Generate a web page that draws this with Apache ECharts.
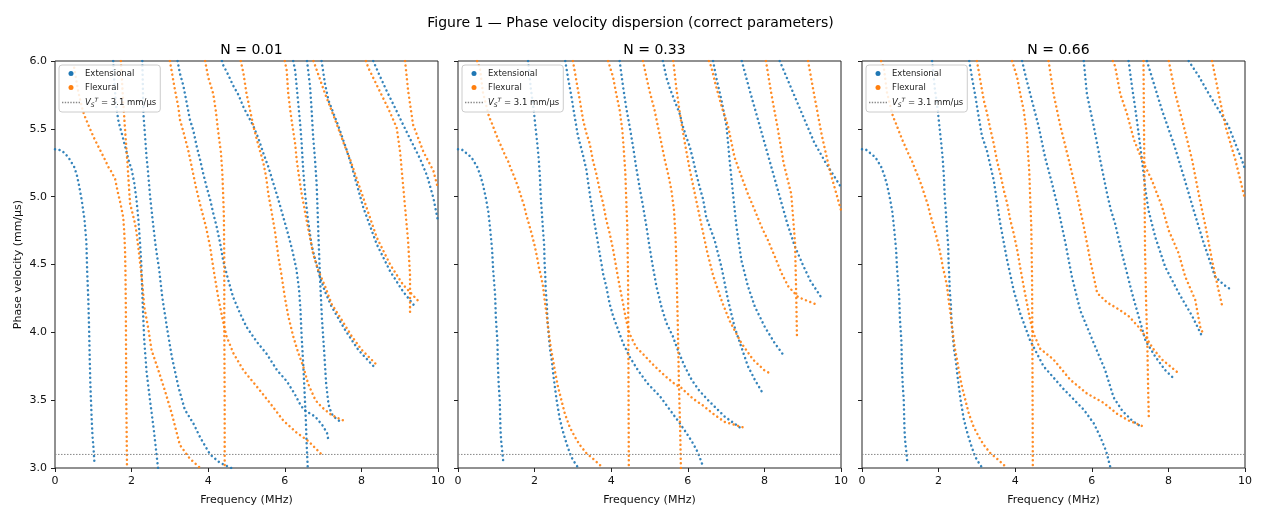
<!DOCTYPE html>
<html>
<head>
<meta charset="utf-8">
<script src="https://cdn.jsdelivr.net/npm/echarts/dist/echarts.min.js"></script>
<style>
html, body { margin: 0; padding: 0; background: #fff; }
#main { width: 1261px; height: 509px; }
</style>
</head>
<body>
<div id="main"></div>
<script>
// panel values
var N_VALUES = [0.01, 0.33, 0.66];
var VS = 3.1;

// N = 0.01  (frequency MHz, phase velocity mm/us)
var EXT_A = [
    [[0,5.35],[0.18,5.34],[0.35,5.29],[0.5,5.22],[0.57,5.16],[0.63,5.08],[0.7,4.97],[0.77,4.83],[0.82,4.66],[0.84,4.45],[0.87,4.24],[0.89,4.03],[0.905,3.83],[0.92,3.65],[0.94,3.49],[0.96,3.35],[0.98,3.23],[1.01,3.13],[1.03,3.04]],
    [[1.52,6.0],[1.55,5.85],[1.59,5.68],[1.66,5.55],[1.74,5.47],[1.85,5.35],[1.92,5.27],[2.0,5.2],[2.07,5.1],[2.13,4.97],[2.18,4.82],[2.22,4.66],[2.25,4.52],[2.29,4.21],[2.33,3.94],[2.39,3.71],[2.48,3.5],[2.58,3.28],[2.69,3.0]],
    [[2.28,6.0],[2.31,5.6],[2.35,5.45],[2.39,5.29],[2.42,5.21],[2.48,5.01],[2.54,4.85],[2.63,4.63],[2.72,4.46],[2.8,4.26],[2.92,4.04],[3.05,3.82],[3.22,3.6],[3.39,3.43],[3.61,3.33],[3.8,3.22],[4.05,3.1],[4.3,3.04],[4.6,3.0]],
    [[3.2,6.0],[3.26,5.91],[3.35,5.82],[3.44,5.69],[3.52,5.57],[3.61,5.49],[3.7,5.37],[3.79,5.27],[3.87,5.17],[3.96,5.07],[4.05,4.98],[4.13,4.88],[4.22,4.78],[4.31,4.66],[4.39,4.53],[4.52,4.39],[4.65,4.26],[4.83,4.14],[5.0,4.04],[5.27,3.93],[5.53,3.84],[5.8,3.72],[6.05,3.64],[6.25,3.55],[6.4,3.47],[6.5,3.43],[6.61,3.41],[6.79,3.38],[6.97,3.32],[7.1,3.26],[7.15,3.19]],
    [[4.36,6.0],[4.39,5.97],[4.52,5.9],[4.65,5.82],[4.79,5.75],[4.92,5.66],[5.05,5.59],[5.18,5.52],[5.31,5.43],[5.44,5.32],[5.57,5.22],[5.7,5.1],[5.83,4.98],[5.96,4.85],[6.09,4.72],[6.2,4.6],[6.3,4.47],[6.37,4.32],[6.41,4.16],[6.44,3.97],[6.48,3.77],[6.51,3.6],[6.55,3.35],[6.57,3.18],[6.6,3.0]],
    [[6.22,6.0],[6.27,5.93],[6.31,5.81],[6.35,5.69],[6.4,5.54],[6.44,5.39],[6.48,5.2],[6.53,5.02],[6.6,4.84],[6.7,4.64],[6.88,4.44],[7.05,4.3],[7.22,4.19],[7.57,4.02],[7.92,3.87],[8.35,3.74]],
    [[6.58,6.0],[6.61,5.93],[6.66,5.81],[6.7,5.64],[6.74,5.44],[6.79,5.27],[6.83,5.1],[6.85,4.95],[6.88,4.7],[6.92,4.4],[6.97,4.1],[7.03,3.85],[7.08,3.62],[7.14,3.47],[7.22,3.4],[7.35,3.36],[7.47,3.34]],
    [[6.96,6.0],[7.05,5.83],[7.14,5.71],[7.4,5.52],[7.62,5.34],[7.75,5.22],[8.05,4.92],[8.4,4.65],[8.75,4.45],[9.09,4.3],[9.4,4.19]],
    [[8.31,6.0],[8.48,5.89],[8.66,5.78],[8.87,5.66],[9.09,5.53],[9.3,5.41],[9.53,5.28],[9.72,5.15],[9.88,4.99],[10,4.82]]
];
var FLEX_A = [
    [[0.5,5.95],[0.61,5.77],[0.72,5.64],[0.78,5.59],[0.87,5.53],[0.96,5.47],[1.04,5.42],[1.13,5.37],[1.22,5.32],[1.31,5.27],[1.39,5.22],[1.48,5.18],[1.57,5.13],[1.65,5.02],[1.71,4.95],[1.78,4.85],[1.81,4.73],[1.83,4.59],[1.84,4.44],[1.85,4.16],[1.86,3.55],[1.88,3.0]],
    [[1.72,6.0],[1.78,5.7],[1.84,5.45],[1.9,5.21],[1.96,4.95],[2.03,4.87],[2.09,4.8],[2.13,4.73],[2.19,4.59],[2.25,4.44],[2.28,4.36],[2.33,4.19],[2.44,4.02],[2.52,3.87],[2.7,3.72],[2.87,3.57],[3.05,3.4],[3.26,3.17],[3.52,3.07],[3.79,3.0]],
    [[3.0,6.0],[3.03,5.95],[3.13,5.79],[3.22,5.66],[3.26,5.57],[3.35,5.48],[3.48,5.34],[3.57,5.22],[3.68,5.07],[3.8,4.93],[3.94,4.78],[4.05,4.63],[4.13,4.48],[4.26,4.26],[4.31,4.19],[4.38,4.09],[4.48,3.97],[4.65,3.85],[4.92,3.72],[5.27,3.6],[5.61,3.48],[5.96,3.35],[6.31,3.26],[6.61,3.2],[6.96,3.1]],
    [[3.92,6.0],[4.0,5.88],[4.13,5.76],[4.2,5.63],[4.26,5.48],[4.33,5.33],[4.37,5.17],[4.39,5.02],[4.41,4.85],[4.42,4.53],[4.42,4.04],[4.43,3.5],[4.43,3.0]],
    [[4.85,6.0],[4.92,5.91],[5.0,5.76],[5.09,5.64],[5.18,5.52],[5.27,5.42],[5.35,5.34],[5.44,5.25],[5.51,5.15],[5.57,5.02],[5.66,4.88],[5.74,4.75],[5.83,4.56],[5.92,4.41],[6.0,4.26],[6.09,4.12],[6.22,3.97],[6.35,3.85],[6.48,3.75],[6.61,3.62],[6.8,3.5],[6.96,3.45],[7.22,3.39],[7.53,3.35]],
    [[6.0,6.0],[6.05,5.93],[6.09,5.76],[6.14,5.64],[6.2,5.52],[6.27,5.39],[6.31,5.27],[6.37,5.15],[6.44,5.02],[6.52,4.9],[6.6,4.78],[6.74,4.58],[6.87,4.46],[7.05,4.34],[7.22,4.21],[7.49,4.09],[7.75,3.97],[8.01,3.87],[8.4,3.76]],
    [[6.75,6.0],[6.9,5.88],[7.05,5.76],[7.31,5.57],[7.57,5.37],[7.7,5.28],[8.05,4.99],[8.4,4.7],[8.75,4.5],[9.09,4.35],[9.49,4.23]],
    [[8.12,6.0],[8.18,5.95],[8.44,5.8],[8.7,5.65],[8.92,5.51],[9.01,5.33],[9.07,5.14],[9.14,4.92],[9.22,4.67],[9.27,4.42],[9.27,4.13]],
    [[9.14,6.0],[9.22,5.78],[9.35,5.53],[9.62,5.33],[9.88,5.19],[10,5.06]]
];

// N = 0.33
var EXT_B = [
    [[0,5.35],[0.09,5.35],[0.35,5.29],[0.5,5.22],[0.58,5.16],[0.65,5.09],[0.72,5.0],[0.79,4.89],[0.84,4.76],[0.89,4.61],[0.92,4.45],[0.97,4.27],[0.99,4.1],[1.03,3.93],[1.04,3.77],[1.06,3.63],[1.09,3.5],[1.1,3.39],[1.11,3.28],[1.13,3.19],[1.16,3.11],[1.18,3.05]],
    [[1.83,6.0],[1.9,5.8],[1.98,5.63],[2.02,5.52],[2.07,5.39],[2.11,5.27],[2.14,5.14],[2.16,5.0],[2.19,4.88],[2.22,4.75],[2.25,4.64],[2.26,4.52],[2.28,4.41],[2.29,4.31],[2.32,4.21],[2.33,4.12],[2.35,4.04],[2.4,3.88],[2.44,3.81],[2.5,3.66],[2.57,3.51],[2.65,3.37],[2.72,3.29],[2.79,3.22],[2.87,3.15],[2.96,3.08],[3.09,3.02],[3.15,3.0]],
    [[2.8,6.0],[2.87,5.88],[2.96,5.74],[3.04,5.6],[3.13,5.45],[3.26,5.31],[3.35,5.2],[3.44,5.02],[3.52,4.88],[3.61,4.73],[3.7,4.58],[3.79,4.43],[3.87,4.34],[3.96,4.21],[4.05,4.12],[4.18,4.02],[4.31,3.92],[4.48,3.82],[4.7,3.72],[4.96,3.62],[5.27,3.53],[5.53,3.43],[5.79,3.33],[5.96,3.26],[6.14,3.18],[6.27,3.11],[6.4,3.01]],
    [[4.22,6.0],[4.31,5.81],[4.39,5.66],[4.48,5.52],[4.57,5.37],[4.65,5.22],[4.74,5.07],[4.83,4.93],[4.92,4.78],[5.0,4.63],[5.09,4.48],[5.18,4.34],[5.31,4.19],[5.44,4.07],[5.61,3.97],[5.74,3.87],[5.9,3.76],[6.1,3.65],[6.3,3.57],[6.53,3.5],[6.96,3.38],[7.4,3.29]],
    [[5.35,6.0],[5.44,5.88],[5.53,5.8],[5.61,5.74],[5.79,5.61],[5.87,5.52],[5.96,5.44],[6.05,5.37],[6.14,5.27],[6.22,5.17],[6.31,5.07],[6.4,4.98],[6.48,4.85],[6.57,4.78],[6.7,4.68],[6.88,4.48],[7.05,4.24],[7.22,4.04],[7.4,3.89],[7.57,3.75],[7.75,3.65],[7.96,3.55]],
    [[6.66,6.0],[6.74,5.88],[6.88,5.71],[7.01,5.52],[7.09,5.27],[7.18,5.02],[7.27,4.78],[7.4,4.53],[7.57,4.34],[7.75,4.19],[8.01,4.04],[8.27,3.92],[8.53,3.82]],
    [[7.41,6.0],[7.6,5.8],[7.8,5.6],[8.0,5.4],[8.2,5.2],[8.4,5.0],[8.6,4.8],[8.8,4.63],[9.0,4.5],[9.2,4.38],[9.5,4.25]],
    [[8.4,6.0],[8.7,5.8],[9.0,5.6],[9.3,5.4],[9.6,5.25],[10,5.07]]
];
var FLEX_B = [
    [[0.5,6.0],[0.57,5.95],[0.65,5.77],[0.81,5.59],[0.9,5.53],[0.98,5.47],[1.05,5.42],[1.13,5.37],[1.22,5.31],[1.31,5.26],[1.39,5.2],[1.48,5.14],[1.57,5.07],[1.65,5.0],[1.72,4.94],[1.78,4.87],[1.85,4.8],[1.93,4.72],[2.0,4.64],[2.06,4.56],[2.11,4.48],[2.17,4.41],[2.22,4.34],[2.26,4.24],[2.31,4.14],[2.35,4.04],[2.42,3.89],[2.48,3.8],[2.54,3.7],[2.61,3.6],[2.7,3.5],[2.79,3.4],[2.92,3.3],[3.05,3.23],[3.18,3.17],[3.35,3.11],[3.52,3.07],[3.79,3.0]],
    [[3.0,6.0],[3.05,5.92],[3.18,5.71],[3.27,5.56],[3.35,5.47],[3.44,5.39],[3.52,5.27],[3.61,5.17],[3.7,5.05],[3.79,4.95],[3.87,4.83],[3.96,4.73],[4.05,4.61],[4.13,4.48],[4.22,4.34],[4.31,4.21],[4.39,4.09],[4.48,3.99],[4.65,3.89],[4.83,3.84],[5.1,3.76],[5.4,3.68],[5.7,3.61],[5.8,3.6],[5.87,3.58],[6.14,3.51],[6.4,3.46],[6.66,3.4],[6.96,3.34],[7.44,3.3]],
    [[3.92,6.0],[4.05,5.88],[4.13,5.76],[4.22,5.64],[4.29,5.49],[4.33,5.34],[4.37,5.17],[4.39,5.0],[4.42,4.78],[4.44,4.4],[4.45,3.8],[4.46,3.0]],
    [[4.83,6.0],[4.92,5.88],[5.0,5.78],[5.13,5.64],[5.27,5.45],[5.4,5.27],[5.5,5.15],[5.57,5.05],[5.64,4.9],[5.68,4.7],[5.7,4.53],[5.74,4.04],[5.77,3.6],[5.8,3.3],[5.82,3.0]],
    [[5.62,6.0],[5.7,5.8],[5.8,5.6],[5.92,5.4],[6.05,5.2],[6.2,5.0],[6.35,4.8],[6.5,4.6],[6.66,4.42],[6.9,4.22],[7.1,4.08],[7.4,3.92],[7.7,3.8],[8.0,3.72],[8.2,3.69]],
    [[6.55,6.0],[6.61,5.96],[6.75,5.8],[6.9,5.65],[7.05,5.52],[7.22,5.29],[7.4,5.15],[7.57,5.02],[7.75,4.9],[7.92,4.78],[8.09,4.68],[8.27,4.56],[8.44,4.44],[8.62,4.34],[8.88,4.26],[9.14,4.23],[9.4,4.2]],
    [[8.04,6.0],[8.18,5.76],[8.35,5.5],[8.5,5.25],[8.7,5.02],[8.8,4.66],[8.83,4.29],[8.85,3.97]],
    [[9.14,6.0],[9.3,5.75],[9.5,5.45],[9.7,5.2],[10,4.9]]
];

// N = 0.66
var EXT_C = [
    [[0,5.35],[0.09,5.35],[0.35,5.29],[0.5,5.22],[0.58,5.16],[0.65,5.09],[0.72,5.0],[0.79,4.89],[0.84,4.76],[0.89,4.61],[0.92,4.45],[0.97,4.27],[0.99,4.1],[1.03,3.93],[1.04,3.77],[1.06,3.63],[1.09,3.5],[1.1,3.39],[1.11,3.28],[1.13,3.19],[1.16,3.11],[1.18,3.05]],
    [[1.83,6.0],[1.9,5.8],[1.98,5.63],[2.02,5.52],[2.07,5.39],[2.11,5.27],[2.14,5.14],[2.16,5.0],[2.19,4.88],[2.22,4.75],[2.25,4.64],[2.26,4.52],[2.28,4.41],[2.29,4.31],[2.32,4.21],[2.33,4.12],[2.35,4.04],[2.4,3.88],[2.44,3.81],[2.5,3.66],[2.57,3.51],[2.65,3.37],[2.72,3.29],[2.79,3.22],[2.87,3.15],[2.96,3.08],[3.09,3.02],[3.15,3.0]],
    [[2.8,6.0],[2.87,5.88],[2.96,5.74],[3.04,5.6],[3.13,5.45],[3.26,5.34],[3.44,5.12],[3.61,4.8],[3.79,4.53],[3.96,4.31],[4.13,4.14],[4.39,3.94],[4.74,3.75],[5.27,3.58],[5.79,3.43],[6.05,3.33],[6.22,3.23],[6.38,3.12],[6.48,3.01]],
    [[4.18,6.0],[4.28,5.88],[4.39,5.76],[4.61,5.52],[4.78,5.29],[4.96,5.1],[5.13,4.9],[5.31,4.66],[5.48,4.41],[5.7,4.16],[6.05,3.92],[6.35,3.72],[6.57,3.52],[6.8,3.42],[7.05,3.35],[7.31,3.3]],
    [[5.79,6.0],[5.87,5.76],[6.05,5.52],[6.22,5.27],[6.4,5.02],[6.5,4.9],[6.61,4.8],[6.79,4.58],[7.05,4.29],[7.4,3.94],[7.66,3.82],[7.92,3.72],[8.18,3.65]],
    [[6.96,6.0],[7.05,5.81],[7.14,5.64],[7.22,5.47],[7.31,5.27],[7.4,5.05],[7.48,4.9],[7.66,4.7],[7.92,4.48],[8.27,4.29],[8.62,4.12],[8.88,3.97]],
    [[7.44,6.0],[7.57,5.88],[7.83,5.64],[8.14,5.39],[8.4,5.15],[8.66,4.9],[8.92,4.66],[9.22,4.41],[9.45,4.35],[9.66,4.31]],
    [[8.53,6.0],[8.79,5.89],[9.05,5.76],[9.31,5.64],[9.57,5.52],[9.75,5.39],[9.92,5.27],[10,5.2]]
];
var FLEX_C = [
    [[0.5,6.0],[0.57,5.95],[0.65,5.77],[0.81,5.59],[0.9,5.53],[0.98,5.47],[1.05,5.42],[1.13,5.37],[1.22,5.31],[1.31,5.26],[1.39,5.2],[1.48,5.14],[1.57,5.07],[1.65,5.0],[1.72,4.94],[1.78,4.87],[1.85,4.8],[1.93,4.72],[2.0,4.64],[2.06,4.56],[2.11,4.48],[2.17,4.41],[2.22,4.34],[2.26,4.24],[2.31,4.14],[2.35,4.04],[2.42,3.89],[2.48,3.8],[2.54,3.7],[2.61,3.6],[2.7,3.5],[2.79,3.4],[2.92,3.3],[3.05,3.23],[3.18,3.17],[3.35,3.11],[3.52,3.07],[3.79,3.0]],
    [[3.0,6.0],[3.05,5.92],[3.18,5.71],[3.26,5.62],[3.35,5.5],[3.44,5.39],[3.52,5.27],[3.61,5.17],[3.7,5.05],[3.79,4.95],[3.87,4.83],[3.96,4.73],[4.05,4.61],[4.13,4.48],[4.22,4.34],[4.31,4.21],[4.39,4.09],[4.48,3.99],[4.65,3.88],[5.0,3.8],[5.44,3.65],[5.87,3.55],[6.31,3.48],[6.66,3.4],[6.96,3.35],[7.4,3.3]],
    [[3.92,6.0],[4.05,5.88],[4.13,5.76],[4.22,5.64],[4.29,5.49],[4.33,5.34],[4.37,5.17],[4.39,5.0],[4.42,4.78],[4.44,4.4],[4.45,3.8],[4.46,3.0]],
    [[4.87,6.0],[5.0,5.76],[5.18,5.52],[5.4,5.27],[5.61,5.02],[5.79,4.78],[5.96,4.53],[6.14,4.29],[6.4,4.22],[6.7,4.17],[6.96,4.12],[7.22,4.04],[7.4,3.97],[7.6,3.88],[7.83,3.8],[8.26,3.7]],
    [[7.35,6.0],[7.36,5.6],[7.37,5.3],[7.39,4.6],[7.42,4.2],[7.45,3.92],[7.47,3.6],[7.49,3.35]],
    [[6.55,6.0],[6.61,5.96],[6.74,5.76],[6.92,5.61],[7.1,5.42],[7.3,5.28],[7.57,5.12],[7.83,4.93],[8.01,4.75],[8.27,4.58],[8.44,4.41],[8.7,4.24],[8.83,4.04],[8.92,3.98]],
    [[8.01,6.0],[8.18,5.76],[8.4,5.52],[8.62,5.27],[8.79,5.02],[8.97,4.78],[9.14,4.53],[9.31,4.31],[9.4,4.2]],
    [[9.14,6.0],[9.31,5.76],[9.49,5.52],[9.75,5.27],[10,4.98]]
];

var EXT = [EXT_A, EXT_B, EXT_C];
var FLEX = [FLEX_A, FLEX_B, FLEX_C];

var BLUE = '#1f77b4';
var ORANGE = '#ff7f0e';
var FONT = 'DejaVu Sans';
var GRID_LEFT = [55, 458, 862];
var GRID_W = 383;

var myChart = echarts.init(document.getElementById('main'));

var grids = [], xAxes = [], yAxes = [], titles = [], legends = [], series = [];

titles.push({
    text: 'Figure 1 \u2014 Phase velocity dispersion (correct parameters)',
    left: 'center',
    top: 11,
    textStyle: { fontFamily: FONT, fontSize: 14, fontWeight: 'normal', color: '#000' }
});

for (var i = 0; i < 3; i++) {
    grids.push({
        left: GRID_LEFT[i], top: 61, width: GRID_W, height: 407,
        outerBoundsMode: 'none', containLabel: false,
        show: true, borderColor: '#222', borderWidth: 1, backgroundColor: 'transparent'
    });
    xAxes.push({
        type: 'value', gridIndex: i, min: 0, max: 10, interval: 2,
        axisLine: { show: false },
        axisTick: { show: true, length: 4, lineStyle: { color: '#222' } },
        axisLabel: { fontFamily: FONT, fontSize: 11, color: '#111', margin: 8 },
        splitLine: { show: false },
        name: 'Frequency (MHz)', nameLocation: 'middle', nameGap: 27,
        nameTextStyle: { fontFamily: FONT, fontSize: 11, color: '#111' }
    });
    yAxes.push({
        type: 'value', gridIndex: i, min: 3, max: 6, interval: 0.5,
        axisLine: { show: false },
        axisTick: { show: true, length: 4, lineStyle: { color: '#222' } },
        axisLabel: {
            show: i === 0, fontFamily: FONT, fontSize: 11, color: '#111', margin: 8,
            formatter: function (v) { return v.toFixed(1); }
        },
        splitLine: { show: false },
        name: i === 0 ? 'Phase velocity (mm/\u00b5s)' : '',
        nameLocation: 'middle', nameGap: 31, nameRotate: 90,
        nameTextStyle: { fontFamily: FONT, fontSize: 11, color: '#111' }
    });
    titles.push({
        text: 'N = ' + N_VALUES[i].toFixed(2),
        left: GRID_LEFT[i] + GRID_W / 2, textAlign: 'center', top: 38,
        textStyle: { fontFamily: FONT, fontSize: 14, fontWeight: 'normal', color: '#000' }
    });
    legends.push({
        left: GRID_LEFT[i] + 4, top: 65, orient: 'vertical',
        padding: [4, 4, 4, 3], itemGap: 5, itemWidth: 18, itemHeight: 5,
        backgroundColor: 'rgba(255,255,255,0.85)', borderColor: '#ccc', borderWidth: 1, borderRadius: 3,
        selectedMode: false,
        textStyle: {
            fontFamily: FONT, fontSize: 8.5, color: '#222',
            rich: {
                v: { fontFamily: FONT, fontSize: 8.5, fontStyle: 'italic', color: '#222' },
                sub: { fontFamily: FONT, fontSize: 6, fontStyle: 'italic', color: '#222', verticalAlign: 'bottom', padding: [4, 0, 0, 0] },
                sup: { fontFamily: FONT, fontSize: 6, fontStyle: 'italic', color: '#222', verticalAlign: 'top', padding: [0, 0, 5, 0] },
                t: { fontFamily: FONT, fontSize: 8.5, color: '#222' }
            }
        },
        formatter: function (name) {
            if (name === 'Vs') return '{v|V}{sub|S}{sup|T}{t| = ' + VS.toFixed(1) + ' mm/\u00b5s}';
            return name;
        },
        data: [
            { name: 'Extensional', icon: 'circle' },
            { name: 'Flexural', icon: 'circle' },
            { name: 'Vs', icon: 'path://M0,0h2v2h-2zM4,0h2v2h-2zM8,0h2v2h-2zM12,0h2v2h-2zM16,0h2v2h-2zM20,0h2v2h-2zM24,0h2v2h-2z' }
        ]
    });

    EXT[i].forEach(function (curve) {
        series.push({
            type: 'line', name: 'Extensional', xAxisIndex: i, yAxisIndex: i,
            data: curve, showSymbol: false, symbol: 'none', silent: true,
            itemStyle: { color: BLUE },
            lineStyle: { color: BLUE, width: 2.5, type: [0.01, 4.6], cap: 'round', opacity: 0.9 }
        });
    });
    FLEX[i].forEach(function (curve) {
        series.push({
            type: 'line', name: 'Flexural', xAxisIndex: i, yAxisIndex: i,
            data: curve, showSymbol: false, symbol: 'none', silent: true,
            itemStyle: { color: ORANGE },
            lineStyle: { color: ORANGE, width: 2.5, type: [0.01, 4.6], cap: 'round', opacity: 0.9 }
        });
    });
    series.push({
        type: 'line', name: 'Vs', xAxisIndex: i, yAxisIndex: i,
        data: [[0, VS], [10, VS]], showSymbol: false, symbol: 'none', silent: true,
        itemStyle: { color: '#888' },
        lineStyle: { color: '#888', width: 1, type: [1.5, 1.5] }
    });
}

var option = {
    animation: false,
    backgroundColor: '#fff',
    title: titles,
    grid: grids,
    xAxis: xAxes,
    yAxis: yAxes,
    legend: legends,
    series: series
};
myChart.setOption(option);
</script>
</body>
</html>
